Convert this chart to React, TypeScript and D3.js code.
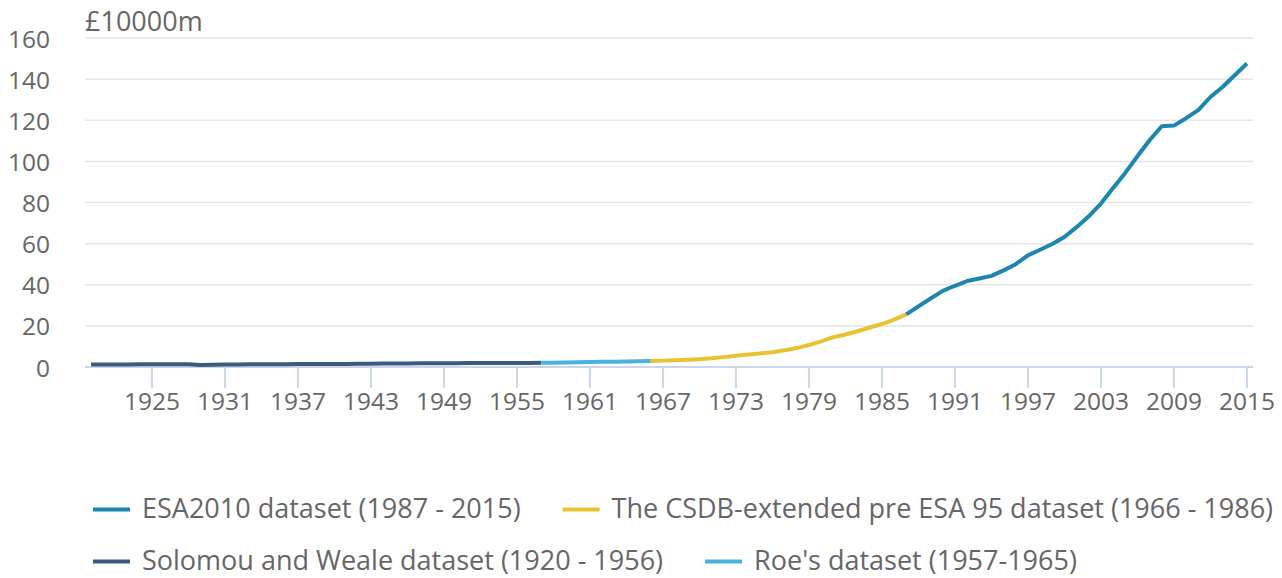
import React, { useEffect, useRef } from "react";
import * as d3 from "d3";

// values in £10000m, one per year
const solomouValues = [
  1.2, 1.25, 1.25, 1.25, 1.3, 1.3, 1.3, 1.35, 1.3, 1.0, 1.1, 1.2, 1.25, 1.3, 1.3, 1.35, 1.35, 1.4, 1.4,
  1.45, 1.45, 1.5, 1.55, 1.6, 1.65, 1.7, 1.75, 1.8, 1.8, 1.85, 1.85, 1.9, 1.9, 1.95, 1.95, 2.0, 2.0,
];
const roeValues = [2.05, 2.1, 2.2, 2.3, 2.4, 2.5, 2.6, 2.7, 2.8];
const csdbValues = [
  2.9, 3.1, 3.3, 3.5, 3.8, 4.2, 4.8, 5.5, 6.1, 6.6, 7.2, 8.1, 9.2, 10.7, 12.5, 14.5, 15.8, 17.4,
  19.2, 20.9, 23.0,
];
const esaValues = [
  25.6, 29.5, 33.3, 37, 39.5, 41.8, 43, 44.3, 47, 50, 54.3, 57, 59.8, 63.2, 68, 73.3, 79.5, 87,
  94.4, 102.5, 110.3, 117.1, 117.4, 121, 124.9, 131.3, 136.2, 141.9, 147.6,
];

const seriesNames = [
  "Solomou and Weale dataset (1920 - 1956)",
  "Roe's dataset (1957-1965)",
  "The CSDB-extended pre ESA 95 dataset (1966 - 1986)",
  "ESA2010 dataset (1987 - 2015)",
];
const seriesColors = ["#3d5b7c", "#48b3de", "#e7c332", "#1c87ae"];
const legendRows = [
  [3, 2],
  [0, 1],
];
const yTicks = [0, 20, 40, 60, 80, 100, 120, 140, 160];
const unitLabel = "£10000m";
const firstYear = 1920;
const tickEvery = 6;

const W = 1282;
const H = 578;
const FONT = "'Open Sans', sans-serif";

export default function App() {
  const ref = useRef<SVGSVGElement>(null);

  useEffect(() => {
    document.body.style.margin = "0";
    const svg = d3.select(ref.current);
    svg.selectAll("*").remove();

    const parts = [solomouValues, roeValues, csdbValues, esaValues];
    const all = parts.flat();
    const years = all.map((_, i) => firstYear + i);

    const margin = { left: 85, right: 29, top: 38, bottom: 211 };
    const x = d3
      .scaleBand<number>()
      .domain(years)
      .range([margin.left, W - margin.right]);
    const y = d3
      .scaleLinear()
      .domain([0, 160])
      .range([H - margin.bottom, margin.top]);
    const cx = (yr: number) => (x(yr) as number) + x.bandwidth() / 2;

    // gridlines
    svg
      .append("g")
      .selectAll("line")
      .data(yTicks)
      .join("line")
      .attr("x1", margin.left)
      .attr("x2", W - margin.right)
      .attr("y1", (d) => y(d))
      .attr("y2", (d) => y(d))
      .attr("stroke", "#e6e6e6")
      .attr("stroke-width", 1.5);

    svg
      .append("g")
      .selectAll("text")
      .data(yTicks)
      .join("text")
      .attr("x", 50)
      .attr("y", (d) => y(d) + 3)
      .attr("dominant-baseline", "middle")
      .attr("text-anchor", "end")
      .attr("fill", "#666")
      .style("font", `24.5px ${FONT}`)
      .text((d) => d);

    svg
      .append("text")
      .attr("x", margin.left)
      .attr("y", 31)
      .attr("fill", "#666")
      .style("font", `27px ${FONT}`)
      .text(unitLabel);

    // x axis
    const xAxis = svg.append("g");
    xAxis
      .append("line")
      .attr("x1", margin.left)
      .attr("x2", W - margin.right)
      .attr("y1", y(0))
      .attr("y2", y(0))
      .attr("stroke", "#ccd6eb")
      .attr("stroke-width", 2);
    const tickYears = years.filter((yr) => (yr - firstYear) % tickEvery === 5);
    const ticks = xAxis.selectAll("g.tick").data(tickYears).join("g").attr("class", "tick");
    ticks
      .append("line")
      .attr("x1", (d) => cx(d))
      .attr("x2", (d) => cx(d))
      .attr("y1", y(0))
      .attr("y2", y(0) + 21)
      .attr("stroke", "#ccd6eb")
      .attr("stroke-width", 2);
    ticks
      .append("text")
      .attr("x", (d) => cx(d))
      .attr("y", 410)
      .attr("text-anchor", "middle")
      .attr("fill", "#666")
      .style("font", `24.5px ${FONT}`)
      .text((d) => d);

    // line segments, each joined to the first point of the next
    const line = d3
      .line<[number, number]>()
      .x((d) => cx(d[0]))
      .y((d) => y(d[1]));
    let start = 0;
    parts.forEach((p, i) => {
      const end = Math.min(start + p.length + 1, all.length);
      const pts = d3.range(start, end).map((k) => [years[k], all[k]] as [number, number]);
      svg
        .append("path")
        .datum(pts)
        .attr("d", line)
        .attr("fill", "none")
        .attr("stroke", seriesColors[i])
        .attr("stroke-width", 4)
        .attr("stroke-linejoin", "round")
        .attr("stroke-linecap", "butt");
      start += p.length;
    });

    // legend, two rows, items flowed left to right
    const legend = svg.append("g");
    const rowY = [511, 563];
    legendRows.forEach((items, row) => {
      let lx = 93;
      items.forEach((si) => {
        const g = legend.append("g").attr("transform", `translate(${lx},${rowY[row]})`);
        const t = g
          .append("text")
          .attr("x", 49)
          .attr("dominant-baseline", "middle")
          .attr("fill", "#666")
          .style("font", `27px ${FONT}`)
          .text(seriesNames[si]);
        g.append("line")
          .attr("x1", 0)
          .attr("x2", 37)
          .attr("y1", -1.5)
          .attr("y2", -1.5)
          .attr("stroke", seriesColors[si])
          .attr("stroke-width", 4);
        lx += 49 + (t.node() as SVGTextElement).getComputedTextLength() + 42;
      });
    });
  }, []);

  return <svg ref={ref} width={W} height={H} style={{ display: "block" }} />;
}
